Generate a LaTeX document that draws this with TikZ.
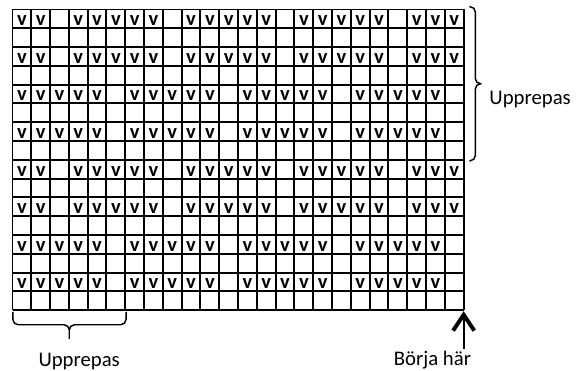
\documentclass[tikz,border=0pt]{standalone}
\usepackage{fontspec}
\setmainfont{Carlito}
\usetikzlibrary{arrows.meta}
\tikzset{
  stitch/.style={font=\bfseries\fontsize{15.5}{15.5}\selectfont, inner sep=0pt, anchor=base},
  chartlabel/.style={font=\fontsize{15.7}{16}\selectfont, inner sep=0pt},
  braceline/.style={line width=1.1pt, rounded corners=4pt},
}
\begin{document}
\begin{tikzpicture}[x=0.5cm,y=0.5cm]
\useasboundingbox (-0.665,-3.218) rectangle (30.03,16.505);
\path
(0,0) coordinate (SW)
(24,16) coordinate (NE)
(24,-0.05) coordinate (T)
(24,-2.05) coordinate (S)
(24.95,12.05) coordinate (R)
(3.02,-1.52) coordinate (B)
;
% chart
\draw[line width=1.5pt, step=1] (SW) grid (NE);
\foreach \r/\s in {15/2,13/2,7/2,5/2,11/5,9/5,3/5,1/5}
\foreach \c in {0,...,23} {
  \pgfmathtruncatemacro\m{mod(\c,6)}
  \ifnum\m=\s\else
    \node[stitch] (v-\r-\c) at (\c+0.5,\r+0.14) {v};
  \fi
}
% braces
\draw[braceline] (24.3,16.15)--(24.62,16.15)--(24.62,12.05)--(R)
  (R)--(24.62,12.05)--(24.62,7.95)--(24.3,7.95);
\draw[braceline] (0.02,-0.08)--(0.02,-0.77)--(3.02,-0.77)--(B)
  (B)--(3.02,-0.77)--(6.04,-0.77)--(6.04,-0.08);
\node[chartlabel, anchor=base west] (rep1) at (25.36,10.96) {Upprepas};
\node[chartlabel, anchor=base west] (rep2) at (1.37,-3.0) {Upprepas};
% start
\draw[line width=1.4pt, -{Straight Barb[length=12pt,width=16pt,line width=3pt]}] (S)--(T);
\node[chartlabel, anchor=base] (start) at (22.34,-2.94) {Börja här};
\end{tikzpicture}
\end{document}
